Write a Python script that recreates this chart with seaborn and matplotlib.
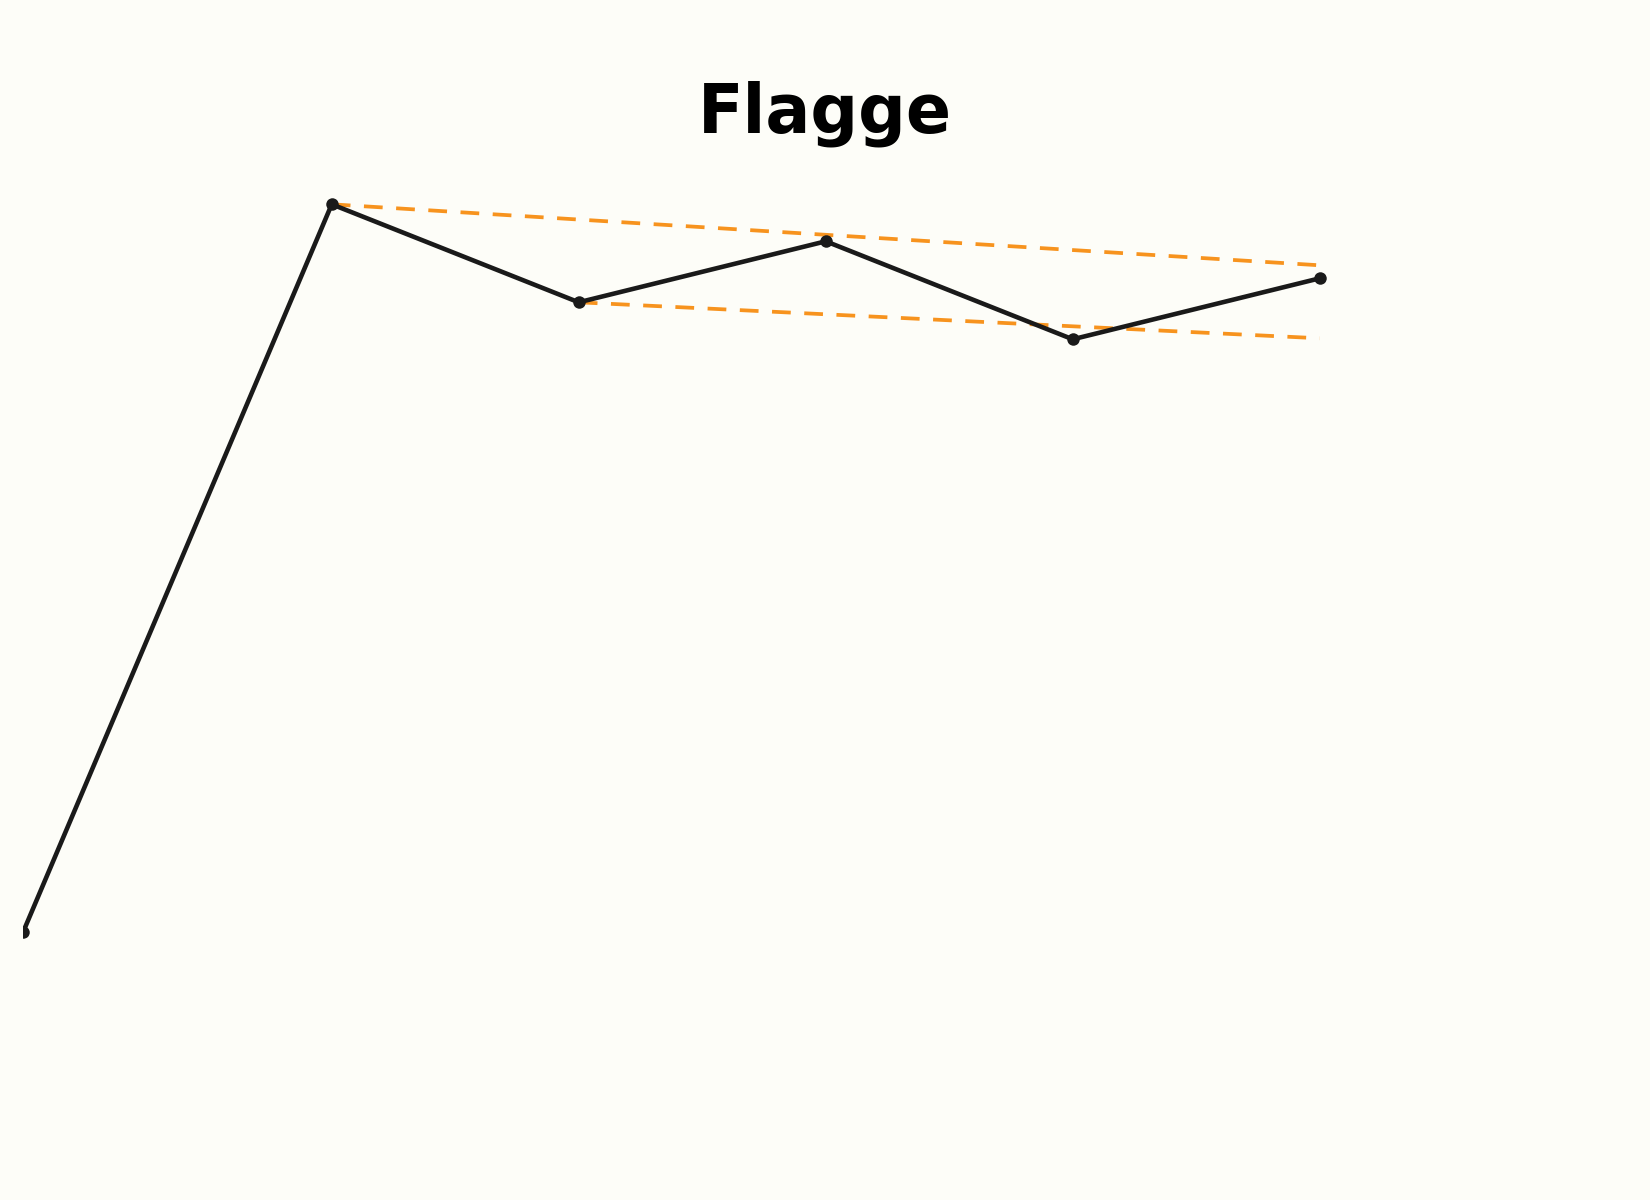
import matplotlib
matplotlib.use("Agg")
import matplotlib.pyplot as plt
import seaborn as sns
import pandas as pd

# ---- data ----
x_pos = [0.0, 1.25, 2.25, 3.25, 4.25, 5.25]
price = [63.6, 100.0, 95.1, 98.15, 93.25, 96.3]
upper_x = [1.25, 5.25]
upper_y = [100.0, 96.95]
lower_x = [2.25, 5.25]
lower_y = [95.1, 93.3]
title = "Flagge"

BG = "#fdfdf8"
LINE = "#1a1a1a"
ORANGE = "#f7931e"

sns.set_theme(style="white")
plt.rcParams['font.family'] = ['DejaVu Sans']

fig = plt.figure(figsize=(11, 8), dpi=150, facecolor=BG)
ax = fig.add_axes([23 / 1650, 100 / 1200, 1604 / 1650, 950 / 1200])
ax.set_facecolor(BG)

df_price = pd.DataFrame({"x": x_pos, "y": price})
df_up = pd.DataFrame({"x": upper_x, "y": upper_y})
df_lo = pd.DataFrame({"x": lower_x, "y": lower_y})

sns.lineplot(data=df_up, x="x", y="y", color=ORANGE, linewidth=1.8,
             linestyle=(0, (5, 3.6)), ax=ax, zorder=1)
sns.lineplot(data=df_lo, x="x", y="y", color=ORANGE, linewidth=1.8,
             linestyle=(0, (5, 3.6)), ax=ax, zorder=1)
sns.lineplot(data=df_price, x="x", y="y", color=LINE, linewidth=2.2,
             marker="o", markersize=6, markeredgewidth=0, ax=ax, zorder=2)

ax.set_xlim(0, 1604 / 247)
ax.set_ylim(55.215, 102.715)
ax.axis("off")
ax.set_title(title, fontsize=32, fontweight="bold", pad=8.2, color="black")

fig.savefig("out.png", dpi=150, facecolor=BG)
